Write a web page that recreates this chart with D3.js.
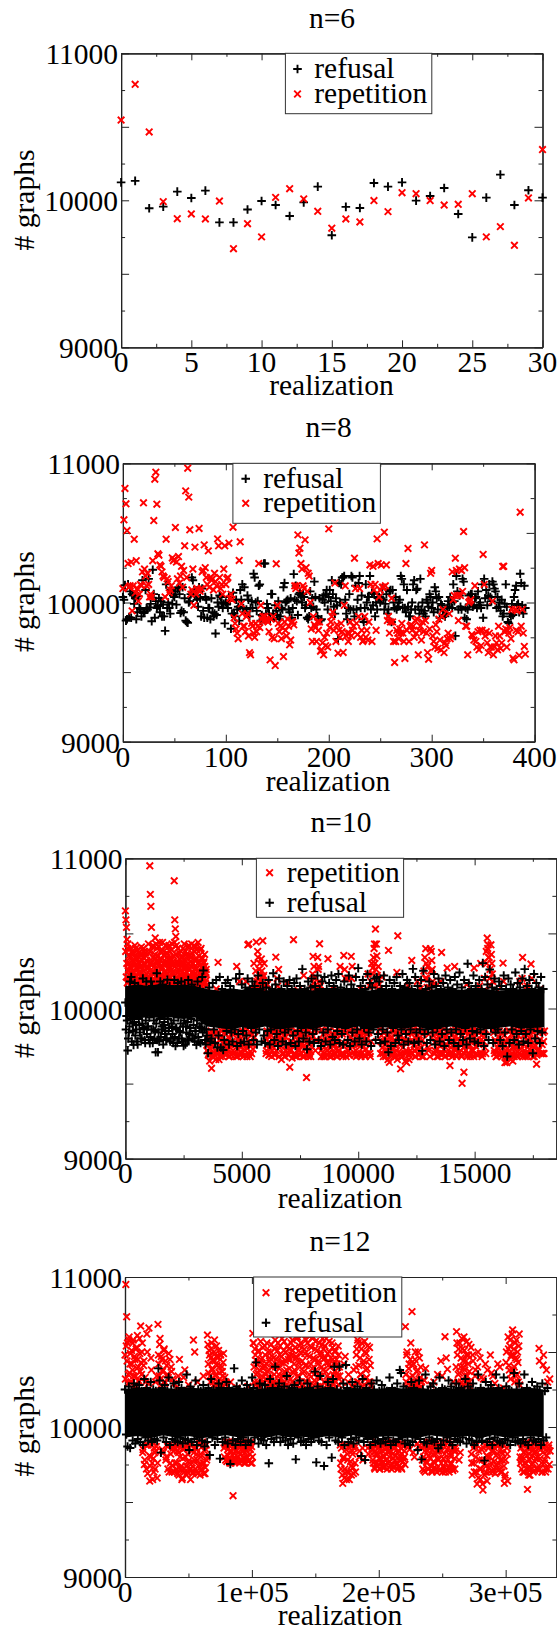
<!DOCTYPE html>
<html>
<head>
<meta charset="utf-8">
<script src="https://cdn.jsdelivr.net/npm/d3@7"></script>
<style>
    html, body { margin: 0; padding: 0; background: #fff; }
    svg { display: block; }
    text { font-family: "Liberation Serif", serif; fill: #000; }
</style>
</head>
<body>
<div id="chart"></div>
<script>
// n=6, one value per realization
const n6Refusal = [10122,10132,9946,9957,10059,10016,10066,9850,9850,9937,9995,9968,9893,9986,10093,9762,9955,9948,10118,10093,10122,9998,10029,10084,9907,9748,10018,10175,9968,10068,10018];
const n6Repetition = [10546,10789,10465,9991,9875,9907,9873,9995,9671,9841,9751,10020,10079,10009,9925,9810,9873,9853,9998,9923,10052,10045,9998,9968,9973,10045,9751,9821,9694,10016,10345];

// n=8, one value per realization
const n8Refusal = [
    10040,10020,10125,9870,9880,10130,9895,10080,9890,10060,10050,9990,10030,9880,9930,10045,9960,9950,9900,10160,
    9925,9935,10090,9960,9950,10170,9965,9990,9865,10235,10060,9890,10010,9960,9975,10030,9930,10010,9900,9985,
    9900,9796,10130,9960,10000,9960,9920,10090,9990,10050,10040,10080,9985,10100,10110,10060,9925,9940,10110,9930,
    10030,9870,9860,9855,10000,10010,10060,10180,10160,10090,10050,10080,10020,9970,10110,10030,9900,10100,9940,9890,
    10040,10020,9890,9960,9960,9880,10030,9930,9900,9920,9777,9910,10000,9970,10050,10040,10000,9960,9990,9850,
    10000,9990,9960,10040,10010,9811,9920,10070,9920,9900,10020,9950,9970,9870,10090,10020,10130,9960,10110,9930,
    9950,10050,10020,9900,9960,10010,9960,10206,10180,10000,9940,10010,10120,10130,9870,9910,9880,10280,10280,9920,
    9990,9960,9920,9880,10060,10060,9920,9890,9980,9940,9910,10010,9880,9900,9960,9950,10110,10140,10000,10010,
    10020,9950,9930,10030,9890,9960,10204,10020,10120,10010,9910,10060,10070,10050,10000,10060,10040,9960,9980,9890,
    9880,9900,10080,9960,10030,9970,10150,10040,9950,9900,9880,10030,9870,9880,10020,10050,10000,10060,10090,9950,
    10040,10090,10010,10160,10060,9970,9920,10030,9980,9739,10140,10000,10130,10180,10180,10190,10020,9920,9880,9960,
    10060,9950,10190,10180,9950,9900,10120,9950,10020,10140,10190,9960,10050,9880,9860,9960,10130,10000,10040,10040,
    10190,9950,10070,9980,10060,9900,10000,9950,10030,10040,10000,10030,10100,10020,9950,9990,10060,9920,9950,10080,
    10090,9860,10090,10000,9960,10040,9950,9970,10000,10020,10190,10170,9960,10130,9960,9930,10090,9970,9900,9900,
    9950,10000,10130,10160,9950,10090,10100,9970,9920,10170,9950,10000,9920,9940,9900,10020,10000,9970,10060,10040,
    9960,10000,9930,10110,10080,10030,9950,10040,9890,9990,9980,9910,9940,9900,9920,9960,10010,9970,10040,10000,
    9960,10130,10010,9760,10190,10080,9950,10050,9970,9950,10170,10150,9890,9960,9880,9950,10050,9990,10060,10060,
    9970,9980,10030,10040,9960,10080,9980,10000,9960,10130,9890,10170,10030,10090,9980,10050,10130,10040,10010,10150,
    10130,10100,10080,9960,10040,9970,10000,9940,10020,9900,9920,9990,10130,9970,9860,9850,9920,9900,9990,9910,
    10040,10090,10120,9980,9990,9930,10206,10140,9980,9920,10120,9960
];
const n8Repetition = [
    10100,10594,10819,10709,10517,10280,10110,10120,10290,9940,10120,10455,10070,10300,10100,10010,10060,10130,10120,10220,
    10716,10240,10190,10120,10210,10130,10040,10060,10040,10300,10589,10886,10936,10706,10350,10340,10270,10260,10220,10190,
    10180,10040,10455,10170,10150,10070,10090,10120,10320,10300,10310,10539,10290,10170,10330,10140,10190,10260,10110,10230,
    10407,10802,10180,10965,10757,10522,10060,10090,10240,9980,10398,10060,10100,10090,10532,10080,10100,10220,10230,10414,
    10250,10180,10130,10371,10110,10180,10160,10170,10090,10210,10150,10120,10457,10407,10180,10100,10130,10060,10240,10407,
    10130,10170,10180,10426,10030,10060,10020,10541,9890,9850,9810,9780,9740,10302,10436,9990,9920,9830,9830,9790,
    9900,9920,9760,9640,9624,9850,9830,9780,9750,9850,9790,9830,10280,9820,9980,9880,9900,9870,9900,9880,
    9870,9860,9790,9588,9880,9750,9900,9740,9547,10278,9980,9850,9790,9830,9740,9820,9612,9860,9800,9760,
    9880,9830,9696,9730,9860,9860,9840,10120,10100,10120,10486,10355,10390,10280,10240,10120,10100,10450,10250,10080,
    10210,10190,10000,9810,9720,9900,9840,9820,9720,9860,9800,9860,9650,9660,9710,9624,9750,9690,9780,9680,
    10529,9820,9860,9900,9930,9800,10140,9720,9840,9636,9800,9750,9850,9790,9641,9980,10120,9760,9780,9720,
    9780,9860,9760,9800,9830,10318,10100,9850,9770,9900,10100,9750,9800,9720,9730,9900,9750,9800,9730,9860,
    10270,10130,9720,10260,10090,10130,9800,10457,10280,10040,10090,10270,10110,10110,10505,10120,10270,9870,9900,9780,
    9860,10030,9860,9720,9569,9720,9800,9780,9740,9810,9780,9850,9780,9720,9598,10280,9800,10388,9720,9830,
    9840,9800,9830,9750,9870,9780,9880,9624,9800,9830,9730,9860,9790,10414,9870,9780,9640,9593,9810,10210,
    10230,9760,9720,9680,9840,9790,9670,9880,9730,9660,9900,9950,9640,9710,9690,9740,9780,9920,9740,9760,
    10220,10020,10050,10318,10230,10050,9870,10240,10050,10230,10080,10510,10250,9830,9830,9624,10000,10010,10020,9770,
    9760,9730,10120,9720,9680,9790,9660,9800,9690,9800,10345,10130,9760,9790,9710,9640,9780,9680,9680,10010,
    9624,9680,9760,9710,9660,9830,9760,9670,9710,10259,10260,9790,9810,9680,9800,9780,9820,9740,9950,9600,
    9588,9950,9800,9940,9790,9620,10649,9830,9950,9780,9684,9629
];

// n=10, only every so many realizations could be read, see the steps below
const n10RepetitionEarly = [
    10650,10590,10540,10460,10400,10250,10180,10300,10220,10340,10160,10270,10380,10200,10310,
    10240,10350,10170,10290,10400,10210,10330,10260,10180,10370,10230,10300,10160,10280,10350,
    10200,10320,10180,10250,10380,10300,10220,10160,10350,10270,10190,10310,10240,10370,10210,
    10950,10760,10680,10540,10290,10180,10420,10230,10330,10170,10470,10260,10210,10400,10310,
    10180,10350,10240,10440,10200,10320,10160,10280,10390,10220,10300,10170,10360,10250,10420,
    10300,10190,10340,10230,10410,10170,10270,10380,10210,10320,10160,10430,10240,10290,10350,
    10850,10590,10530,10480,10420,10200,10310,10180,10260,10370,10220,10300,10170,10340,10240,
    10200,10400,10270,10160,10320,10230,10380,10190,10290,10350,10170,10260,10420,10210,10310,
    10180,10340,10430,10240,10160,10300,10220,10380,10200,10410,10270,10170,10330,10250,10440,
    10210,10310,10160,10390,10240,10180,10340,10270,10200,10300,10170,10360,10230,10150,10260
];
const n10RepetitionEarlyB = [
    10380,10210,10300,10170,10430,10260,10350,10190,10280,10400,10230,10160,10320,10250,10370,
    10180,10300,10420,10220,10340,10160,10270,10390,10200,10310,10240,10170,10360,10280,10410,
    10260,10170,10340,10400,10210,10290,10180,10370,10230,10320,10160,10270,10430,10200,10300,
    10380,10220,10300,10170,10410,10250,10340,10190,10280,10360,10210,10430,10160,10320,10240,
    10290,10410,10170,10330,10220,10380,10260,10180,10440,10300,10200,10350,10240,10160,10310,
    10230,10370,10180,10300,10260,10420,10200,10340,10170,10290,10390,10220,10310,10160,10250,
    10440,10280,10170,10360,10210,10300,10400,10240,10180,10330,10270,10160,10380,10220,10300,
    10340,10180,10300,10430,10220,10270,10160,10360,10240,10190,10410,10300,10170,10260,10350,
    10280,10210,10370,10170,10300,10240,10420,10180,10330,10260,10160,10390,10220,10300,10180,
    10350,10240,10170,10290,10400,10210,10330,10160,10260,10310,10200,10280,10170,10240,10190
];
const n10RepetitionLate = [
    9720,9780,9700,9650,9830,9602,9760,9680,9840,9720,10130,9700,10307,9660,9790,9740,9850,9680,9720,9770,
    9830,9760,9700,9810,9680,9740,9860,9780,9720,9840,9690,9760,10280,9680,9790,10180,9710,9840,9760,9680,
    9820,9720,10180,9680,10424,10430,9770,9840,9700,9760,10130,9810,10150,10442,10200,10340,10260,10300,10180,10250,
    10451,10220,10120,9800,9720,10160,9840,9690,9760,9820,9720,9860,9780,9690,10342,9820,10150,10260,9740,9840,
    9660,9700,9780,9820,9680,9720,10170,9860,9760,9609,9720,9780,9840,10458,9700,9680,9770,9840,10120,9720,
    9690,9760,9820,9680,10220,9780,9740,9540,9860,9680,9700,9830,9750,10130,10347,10280,10200,9860,9790,10340,
    10280,10431,10150,9680,9760,9830,9700,9680,9790,9720,10331,9850,9680,9740,9810,9690,10130,9760,9700,9830,
    9680,9770,9720,10280,9850,9700,9680,10353,10260,9760,9840,10200,9720,9690,9800,10347,10280,9860,9690,9780,
    9720,9820,9690,9760,9850,10130,9700,9780,9840,10120,9680,9730,9800,10230,9840,9700,10180,10300,10270,10340,
    10429,10529,10429,10220,10280,10160,9860,9780,10210,9700,9840,9760,9680,9820,9720,10387,9642,9740,9800,9690,
    9770,9850,9710,9680,10240,10484,9820,9760,9598,9700,9680,9790,9840,9650,9720,9780,10150,9660,9840,9700,
    10320,9780,9860,9720,9680,9820,10180,9700,9790,10130,9740,9680,9830,10250,10340,10398,10200,10280,9720,10140,
    10398,10380,10260,10160,9860,9720,9800,9680,9760,9840,9700,10180,10373,9780,9700,9820,9680,9760,10270,9850,
    9690,9620,9740,9820,9700,9780,10280,9860,9680,9740,9800,9710,9850,9690,9502,9770,9576,9840,9720,10160,
    9700,9830,9760,9680,9820,9850,9720,10270,9780,9700,9850,9690,9760,10150,10300,9820,9700,9780,10200,9860,
    10380,10469,10424,10340,10260,10424,10300,10180,9840,9700,9780,9680,10120,9730,9850,9700,9760,9680,10302,9820,
    9640,9720,9640,9800,9680,9850,9660,9760,9700,9820,9680,9780,9740,9680,9850,9700,10180,9760,9690,10340,
    9820,9720,9680,9850,10150,9760,9700,9800,10296,10200,9680,9740,9860,9700,9629,9780,9720,9840,10130,9700,
    9760,9840,9700
];
const n10RepetitionLateB = [
    9760,9690,9810,9730,9850,9680,9790,9710,9830,9660,9770,9840,9700,9790,9680,9820,9740,9860,9700,9780,
    9700,9850,9730,9680,9800,9760,9690,9830,9860,9710,9770,9680,9840,9730,9810,9690,9770,9700,9850,9750,
    9690,9810,9740,9860,9700,9780,9680,9820,10130,9730,10300,9850,10250,10180,10380,10150,10220,10120,10330,10160,
    10210,10300,10160,9700,9850,9760,9690,9810,9730,9680,9840,9770,9700,9860,9720,10200,9790,9680,9820,9750,
    9780,9850,9700,9680,9810,9760,9840,9690,9720,9860,9780,9670,9830,9750,9700,9850,9680,9790,9730,9820,
    9840,9700,9770,9860,9680,9730,9810,9690,9780,9850,9720,9680,9800,10230,10170,9850,9720,9790,10140,10260,
    10180,10120,9720,9860,9790,9680,9840,9730,9770,9690,9850,9710,9800,9680,9760,9830,9700,9850,9730,9680,
    9800,9720,9840,9690,9760,9830,9700,9850,10200,9680,9780,9720,9850,9690,9760,10200,9830,9710,9770,9850,
    9680,9760,9840,9700,9790,9680,9820,9740,9860,9690,9770,9830,9700,9850,10150,9680,9780,10230,10150,10400,
    10300,10260,10350,10170,10130,9860,9700,9820,9740,9680,9780,9850,9710,9790,9660,9830,9750,9690,9860,9730,
    9680,9790,9840,9720,9660,9850,9760,9700,9820,9680,9740,9860,9700,9770,9640,9830,9690,9780,9720,9850,
    9700,9840,9760,9680,9800,9730,9860,9690,9770,9840,9710,9790,9680,9850,10200,10300,10140,9740,9830,9680,
    10250,10320,10180,9820,9700,9780,9860,9730,9680,9810,9750,9850,9700,9780,9860,9680,9740,9820,9700,9780,
    9840,9700,9780,9680,9850,9730,9810,9690,9760,9840,9700,9860,9770,9680,9820,9740,9700,9850,9790,9680,
    9760,9850,9690,9780,9720,9840,9680,9810,9750,9860,9690,9770,9840,9700,9790,9680,9830,10120,9740,9700,
    10300,10400,10340,10200,10150,10360,10230,9860,9720,9790,9680,9850,9740,9810,9690,9770,9840,9700,10180,9750,
    9700,9780,9680,9850,9720,9760,9690,9830,9650,9740,9860,9700,9790,9680,9820,9770,9730,9850,10200,9680,
    9760,9850,9700,9790,9680,9830,9730,9860,9700,9770,9840,9680,9750,9820,9690,9860,9730,9790,9700,9850,
    9700,9780,9850
];
const n10Refusal = [
    10040,9950,9720,9840,10180,10210,9900,9758,10170,9860,9780,10150,9890,10130,9800,10200,9860,9770,10180,9880,
    9790,9769,10180,10150,9860,9800,9709,10235,9709,9780,10180,9860,10160,9890,9830,9790,10191,9850,10150,9800,
    9880,9770,10190,9751,9860,10170,9800,9840,10180,9780,9751,10150,9880,9790,10190,9830,9870,10160,9800,10130,
    9850,9758,10180,9780,10130,9870,10210,10253,9860,9760,9820,9702,10140,9780,9800,10170,9860,9770,10190,9740,
    9820,10210,9740,10130,9724,9790,10170,9850,10190,9760,10150,9840,9780,10120,9860,10200,9750,9830,10230,9770,
    10160,9850,9780,10140,9820,10200,9760,10130,9870,10180,9790,10150,9840,9760,10220,9860,10130,9780,10170,9820,
    9770,10140,9850,10190,9760,9860,10130,10235,9790,10160,9830,9750,10200,9870,10130,9780,10180,9840,9760,10150,
    9860,10190,9770,10130,9820,10170,9750,10200,9850,9780,10150,9870,10262,9800,10130,9840,9729,10180,9780,10140,
    10200,9830,9770,10150,9860,10220,9790,10130,9750,10180,9840,10210,9780,10130,9860,10170,9760,10220,9810,10150,
    9790,10190,9850,10230,9770,10140,9830,9760,10180,9870,10130,9790,10220,9750,10160,9840,10130,9780,10210,9860,
    10269,9800,10150,9760,10190,9870,10130,9780,10230,9840,10170,9750,10140,9860,10200,9790,10210,9830,10180,9770,
    10130,9860,10220,9780,10150,9840,9709,10190,9750,10130,9870,10170,9770,10210,9820,9790,10150,9860,10230,9760,
    10140,9830,10190,9780,10170,9860,10130,10264,9770,10210,9840,10150,9780,9860,10190,9718,10251,9830,10130,9770,
    9860,10180,9790,10140,9840,10230,9760,10150,9870,10200,9780,10130,9830,10170,9750,10220,9860,10140,9790,10190,
    9840,10130,9770,10210,9860,10160,9750,10240,9830,10140,9790,10190,9870,9760,10298,10170,9800,10130,9850,10220,
    9780,10150,9840,9770,10190,9860,10130,10302,9750,10210,9830,10160,9790,10260,9870,10140,9770,10200,9840,10130,
    9860,10180,9790,10150,9750,10220,9840,10130,9680,10200,9770,10160,9860,10130,9790,10240,9830,10170,9760,10140,
    9850,10200,9780,10262,9830,10150,9770,10190,9860,10130,9702,10230,9800,10170,9850,10140,9770,10210,9840,10130
];
const n10RefusalEarlyLow = [
    9860,9920,9800,9880,9930,9780,9850,9910,9820,9890,9760,9930,9840,9800,9900,9870,9790,9920,9830,9880,
    9940,9810,9860,9770,9920,9850,9900,9790,9840,9930,9810,9880,9760,9910,9850,9800,9930,9870,9780,9900,
    9830,9920,9810,9870,9770,9940,9850,9900,9800,9880,9920,9760,9840,9910,9790,9870,9930,9820,9890,9780,
    9850,9920,9810,9880,9770,9900,9840,9930,9790,9860
];
// the middle of the refusal band is overplotted solid, so only its edges are read
const n10CoreStep = 500;
const n10CoreLow = [9940,9930,9945,9935,9940,9930,9940,9880,9870,9860,9875,9865,9880,9860,9870,9875,9860,9880,9870,9865,9880,9860,9875,9870,9865,9880,9860,9870,9880,9865,9875,9860,9870,9880,9865,9870,9875];
const n10CoreHigh = [10150,10160,10150,10165,10155,10160,10150,10130,10120,10135,10125,10140,10120,10130,10125,10135,10120,10130,10140,10125,10130,10120,10135,10125,10140,10130,10120,10135,10130,10125,10140,10130,10120,10125,10130,10135,10125];

// n=12
const n12Repetition = [
    10480,10950,10735,10560,10350,10600,10420,10300,10510,10380,10580,10270,10450,10340,10530,10610,10400,10300,10490,10673,
    10350,10560,9850,10440,9780,10300,9720,10500,9880,10660,9640,9800,10380,9760,9900,9700,9830,10300,9870,9660,
    10684,10420,10550,10320,10470,9850,10380,10510,10290,10440,9800,10350,9720,10490,9880,9760,10400,9700,10320,9840,
    9700,9860,10260,9760,9690,9830,10451,9720,9880,9650,9790,10330,9700,9860,9740,9680,9820,10280,9760,9880,
    9720,9840,9690,10580,9780,9860,9700,9820,10300,9740,9880,9680,9800,9720,9900,10340,9760,9690,9850,9780,
    10613,10420,10510,10340,10460,10560,10380,10300,10500,10440,10350,10540,10280,10470,10400,10320,10480,10260,10370,10430,
    9860,10330,9780,9900,10270,9810,9880,9760,10300,9840,9900,9542,9790,9860,9770,9840,10260,9800,9880,9760,
    9820,9900,9770,9860,9790,9880,9760,9840,9800,10270,9870,9780,9850,9900,9760,10624,10560,10300,10480,10350,
    10420,10300,10510,10380,10260,10450,10340,10530,10290,10410,10480,10320,10560,10370,10270,10440,10330,10500,10400,10280,
    10460,10350,10580,10290,10420,10510,10310,10390,10540,10270,10470,10340,10430,10570,10300,10500,10380,10260,10450,10520,
    10640,10320,10480,10580,10360,10420,10530,10290,10460,10600,10340,10510,10400,10560,10280,10440,10620,10370,10490,10300,
    10410,10560,10320,10630,10470,10280,10530,10390,10600,10350,10450,10570,10300,10510,10420,10640,10340,10480,10270,10550,
    10380,10520,10300,10460,10590,10340,10430,10270,10500,10400,10320,10560,10450,10290,10370,10510,10260,10420,10340,10480,
    10400,9880,9720,10300,9624,9800,9660,10470,9850,9700,9780,10350,9650,9880,9740,10270,9820,9690,9860,9760,
    10400,10520,10580,10300,9800,10460,10350,10560,9860,10420,10280,10500,10380,10330,10540,9820,10450,10300,10270,9880,
    9850,9760,9880,9720,9820,9900,9740,9860,9790,9720,9880,9760,9840,9730,9800,9890,9750,9860,9720,9830,
    9880,9770,9840,9720,9900,9790,9740,9860,9810,9750,9880,9720,9840,9780,9890,9730,9820,9770,9870,9800,
    10669,10300,10500,10260,10390,9850,10450,10280,10769,10340,10420,9800,10500,10300,10260,10380,9870,10460,10330,10270,
    9860,9720,9800,10310,9700,9880,9760,9840,9720,9900,9790,10280,9710,9850,9770,9730,9890,9820,9700,10350,
    9780,9880,9720,10440,9840,9700,9790,9900,10602,9760,9720,10385,9860,9700,9810,9750,9890,9720,10300,9840,
    9720,9840,10636,10480,10350,9780,10560,10400,10300,10520,10440,10600,10380,10290,10480,10340,10420,10550,10300,10260,
    9820,9680,10440,9760,9880,10380,9700,9620,10500,9840,9720,9650,10330,9780,9580,9860,9680,10420,9740,9640,
    9800,9880,9700,10480,9760,9840,10340,9720,9860,9690,9810,9740,10420,9880,9720,9780,9850,9700,9820,10260,
    9624,9680,10430,9860,9640,10520,10380,10580,10470,10360,10647,10480,10400,10560,10340,10450,10500,10300,10620,9800,
    9860,9720,9800,9880,9700,9840,9760,9900,9584,9720,9820,9680,9860,9750,9810,9700,9880,9770,9840,9720,
    9800,9880,10524,9720,9850,9760,9700,10413,9860,9780,9700,10380,9840,9720,9880,10320
];
const n12RepetitionB = [
    10320,10540,10440,10290,10580,10360,10490,10300,10420,10560,10340,10470,10280,10520,10390,10450,10310,10590,10370,10430,
    10500,9830,10410,9750,10330,9880,10620,9690,10290,9810,9740,10460,9880,9650,9790,9860,9720,9840,10340,9760,
    10480,10340,10590,10280,10450,10370,9830,10520,10300,9780,10410,9870,10330,9700,10450,9820,10370,9740,9860,10290,
    9760,9880,9720,9840,10340,9680,9800,9890,9740,9660,9850,9720,10380,9800,9890,9700,9770,9860,9720,9650,
    9880,9760,9700,9830,10500,9720,9860,9780,9690,9900,9750,9820,9710,9870,9760,9690,9840,9730,9880,9800,
    10550,10360,10480,10300,10520,10390,10440,10280,10580,10340,10470,10410,10300,10510,10360,10450,10290,10400,10340,10490,
    9800,9880,10300,9770,9850,9900,9790,9840,9760,9890,9810,9770,9880,9840,9790,9900,9770,9830,9860,9780,
    9880,9780,9840,9900,9760,9830,9880,9790,9860,9770,9890,9820,9760,9870,9800,10560,10400,10520,10280,10440,
    10360,10500,10280,10430,10570,10320,10460,10390,10290,10540,10350,10420,10270,10500,10380,10460,10310,10550,10290,10410,
    10300,10520,10400,10450,10280,10560,10350,10480,10320,10430,10590,10290,10510,10370,10440,10280,10540,10340,10470,10390,
    10450,10560,10300,10510,10620,10380,10280,10470,10590,10340,10430,10540,10300,10490,10610,10360,10280,10520,10410,10580,
    10300,10480,10610,10350,10540,10420,10290,10590,10460,10310,10520,10380,10620,10270,10440,10560,10330,10500,10400,10590,
    10450,10300,10540,10370,10280,10490,10410,10570,10320,10460,10270,10530,10350,10420,10500,10300,10450,10360,10540,10280,
    10340,9760,9860,9680,9790,10420,9720,9880,9650,9820,10300,9700,9860,9770,9680,9840,9730,10380,9880,9700,
    10480,10300,10560,10410,9840,10350,10520,10270,9780,10440,10570,10320,10490,10390,9860,10300,10530,10410,10280,9820,
    9780,9880,9730,9840,9900,9760,9820,9880,9720,9790,9860,9740,9890,9810,9730,9850,9780,9900,9760,9840,
    9800,9870,9740,9890,9820,9730,9860,9780,9900,9750,9830,9880,9740,9800,9860,9720,9890,9790,9840,9750,
    10350,10480,9880,10290,10420,10330,10560,10270,10410,9830,10300,10450,10280,10370,9890,10500,10320,10260,10400,10300,
    9780,9880,9710,9840,10390,9770,9900,9720,9810,9860,9740,9890,9700,9820,10300,9760,9880,9720,9840,9790,
    9840,9710,9880,9760,10340,9890,9730,9820,9700,10460,9850,9780,9900,9720,9830,9760,9890,9710,9860,9790,
    9860,10400,10560,10300,10520,10360,9830,10460,10590,10280,10400,10510,10340,10440,10570,10300,10480,10370,10270,10530,
    9760,10480,9860,9700,10340,9800,9880,10400,9660,9780,10460,9720,9850,9620,10320,9750,9880,9700,9810,10380,
    9860,9730,9800,9890,10360,9700,9840,9770,10290,9880,9720,9820,9760,9890,10400,9700,9830,9780,9880,9740,
    9660,9780,10500,9820,10600,10410,10540,10320,10480,10620,10380,10520,10300,10460,10580,10350,10430,10540,10280,9760,
    9780,9880,9700,9830,9760,9890,9720,9810,9860,9680,9780,9880,9720,9840,9760,9900,9710,9830,9790,9870,
    9720,9860,10440,9790,9880,9700,9830,10480,9760,9880,9720,9810,10300,9860,9750,9840
];
const n12Refusal = [
    10250,9950,9870,10270,9860,10240,9910,10290,9890,10250,9920,10280,9900,10240,9880,10320,9930,10260,9910,10240,
    10300,9900,10250,9920,10240,9910,10391,10310,9829,10260,9930,10280,9900,10240,10330,9880,10250,9920,10290,9910,
    10240,9900,10300,9930,10260,9890,10240,9920,10350,9910,9847,10270,9900,10240,9920,10310,9880,10250,9930,10240,
    9910,10280,9870,10240,9900,10260,9813,10320,9930,10250,9880,10240,9920,10290,9789,10260,9900,10240,9930,10300,
    9890,10260,9753,10240,9910,10391,9880,10270,9920,10250,9900,10310,9930,10240,9880,10280,9910,10250,9900,10330,
    10260,9930,10431,10240,9890,10290,9920,10250,9910,10280,9880,10240,9758,10320,9920,10260,9900,10402,9930,10250,
    10290,9900,10240,9930,10270,9910,10340,9880,10250,9920,10260,9890,10280,9784,10240,9930,10310,9900,10250,9910,
    10240,9880,10290,9920,10260,9900,10240,9930,10369,9764,10270,9910,10340,9900,10250,9740,10240,9880,10300,9930,
    10260,9796,10320,10402,9910,10250,9900,10402,10240,9930,10290,9880,10413,10260,9900,10240,9920,10300,9890,10250,
    9930,10270,9910,10240,9807,10320,9900,9780,10260,9920,10240,9880,10290,9930,10250,9900,10310,9910,10240,9890,
    10280,9920,10250,9900,10240,9930,10330,9880,10260,9910,10240,9900,10290,9920,10380,10360,9930,10270,9890,10250,
    9910,10240,9880,10300,9900,10260,9930,10240,9847,10310,9920,9784,10250,9900,10350,9890,10240,9930,10270,9910,
    10290,9900,10240,9920,9858,10330,9880,10260,9910,10250,10240,9930,10310,9900,10270,9880,10240,9920,10290,9910,
    10260,9900,10250,9930,10240,10320,9890,10270,9920,10250,9910,10290,9880,10240,9900,10350,9930,10260,9910,10240,
    9776,10300,9900,10250,9920,10280,9880,10240,9930,10350,9910,10260,9900,10240,9890,10330,9920,10270,9910,10250,
    9880,10240,9930,10360,9900,10250,9910,10290,9890,10240,9920,10350,9900,10260,9880,10240,9930,10300,9910,10250,
    9900,10270,9920,10240,9880,10290,9910,10240,9930,10260
];
const n12CoreStep = 10000;
const n12CoreLow = [9930,9940,9925,9945,9930,9940,9925,9935,9945,9930,9940,9925,9945,9930,9935,9925,9940,9930,9945,9925,9935,9940,9930,9925,9945,9935,9930,9940,9925,9945,9930,9935,9940,9930];
const n12CoreHigh = [10250,10265,10255,10260,10250,10265,10255,10250,10260,10265,10250,10255,10265,10250,10260,10255,10265,10250,10260,10255,10250,10265,10255,10260,10250,10265,10255,10250,10260,10265,10250,10255,10260,10250];

const yLabels = [9000, 10000, 11000];

const atStep = (values, step, start = 0) => values.map((v, i) => ({ x: start + i * step, y: v }));

const refusalStyle = { name: "refusal", color: "#000", path: "M-4.3,0H4.3M0,-4.3V4.3", width: 1.9 };
const repetitionStyle = { name: "repetition", color: "#f00", path: "M-3.3,-3.3L3.3,3.3M-3.3,3.3L3.3,-3.3", width: 1.9 };

const panels = [
    {
        title: "n=6", box: [121.1, 542.5, 53.3, 347.3], xMax: 30, xMajor: 5, xMinor: 2.5,
        titleX: 332, titleY: 28, xLabelX: 331.4, xLabelY: 395, xTickY: 372, yLabelY: 200,
        legend: [285.4, 431.8, 53.3, 113.7], legendMarkX: 297.5, legendTextX: 314.3, legendY: [78, 103],
        layers: [
            { style: refusalStyle, points: atStep(n6Refusal, 1) },
            { style: repetitionStyle, points: atStep(n6Repetition, 1) },
        ],
    },
    {
        title: "n=8", box: [122.9, 534.6, 463.3, 741.7], xMax: 400, xMajor: 100, xMinor: 50,
        titleX: 328.6, titleY: 437, xLabelX: 327.9, xLabelY: 790.7, xTickY: 767, yLabelY: 601.7,
        legend: [232.9, 380.4, 463.3, 523.3], legendMarkX: 245.7, legendTextX: 263.2, legendY: [487.7, 512.3],
        layers: [
            { style: refusalStyle, points: atStep(n8Refusal, 1) },
            { style: repetitionStyle, points: atStep(n8Repetition, 1) },
        ],
    },
    {
        title: "n=10", box: [125.4, 556.4, 858.3, 1158.7], xMax: 18512, xMajor: 5000, xMinor: 2500,
        titleX: 341, titleY: 831.7, xLabelX: 340, xLabelY: 1207.7, xTickY: 1183, yLabelY: 1007.5,
        legend: [256.4, 403.6, 858.3, 917.3], legendMarkX: 269.6, legendTextX: 286.8, legendY: [881.7, 911.7],
        layers: [
            {
                style: repetitionStyle,
                points: atStep(n10RepetitionEarly, 23.3)
                    .concat(atStep(n10RepetitionEarlyB, 23.3, 11.6))
                    .concat(atStep(n10RepetitionLate, 40, 3500))
                    .concat(atStep(n10RepetitionLateB, 40, 3520)),
            },
            {
                style: refusalStyle,
                points: atStep(n10Refusal, 50).concat(atStep(n10RefusalEarlyLow, 50, 25)),
                core: [n10CoreStep, n10CoreLow, n10CoreHigh],
            },
        ],
    },
    {
        title: "n=12", box: [125, 556.4, 1277, 1577], xMax: 340000, xMajor: 100000, xMinor: 50000,
        xFormat: d => d === 0 ? "0" : `${d / 100000}e+05`,
        titleX: 340, titleY: 1250.7, xLabelX: 340, xLabelY: 1624.5, xTickY: 1601.7, yLabelY: 1426,
        legend: [253.6, 401.8, 1277, 1337], legendMarkX: 266, legendTextX: 283.9, legendY: [1301.7, 1331.7],
        layers: [
            { style: repetitionStyle, points: atStep(n12Repetition, 650).concat(atStep(n12RepetitionB, 650, 325)) },
            { style: refusalStyle, points: atStep(n12Refusal, 1012), core: [n12CoreStep, n12CoreLow, n12CoreHigh] },
        ],
    },
];

const svg = d3.select("#chart").append("svg").attr("width", 557).attr("height", 1631);

function drawTicks(g, axis, transform) {
    const t = g.append("g").attr("transform", transform).call(axis);
    t.selectAll("text").remove();
    t.selectAll(".domain").attr("stroke", "#222").attr("stroke-width", 1.2);
    t.selectAll(".tick line").attr("stroke", "#222").attr("stroke-width", 1);
}

function drawPanel(p) {
    const [x0, x1, y0, y1] = p.box;
    const x = d3.scaleLinear().domain([0, p.xMax]).range([x0, x1]);
    const y = d3.scaleLinear().domain([9000, 11000]).range([y1, y0]);
    const g = svg.append("g");

    const xMajors = d3.range(0, p.xMax + 1, p.xMajor);
    const xMinors = d3.range(p.xMinor, p.xMax, p.xMajor);
    const yMajors = d3.range(9000, 11001, 500);
    const yMinors = d3.range(9250, 11000, 500);

    drawTicks(g, d3.axisBottom(x).tickValues(xMajors).tickSize(-7).tickSizeOuter(0), `translate(0,${y1})`);
    drawTicks(g, d3.axisBottom(x).tickValues(xMinors).tickSize(-3.5).tickSizeOuter(0), `translate(0,${y1})`);
    drawTicks(g, d3.axisTop(x).tickValues(xMajors).tickSize(-7).tickSizeOuter(0), `translate(0,${y0})`);
    drawTicks(g, d3.axisTop(x).tickValues(xMinors).tickSize(-3.5).tickSizeOuter(0), `translate(0,${y0})`);
    drawTicks(g, d3.axisLeft(y).tickValues(yMajors).tickSize(-8).tickSizeOuter(0), `translate(${x0},0)`);
    drawTicks(g, d3.axisLeft(y).tickValues(yMinors).tickSize(-4).tickSizeOuter(0), `translate(${x0},0)`);
    drawTicks(g, d3.axisRight(y).tickValues(yMajors).tickSize(-8).tickSizeOuter(0), `translate(${x1},0)`);
    drawTicks(g, d3.axisRight(y).tickValues(yMinors).tickSize(-4).tickSizeOuter(0), `translate(${x1},0)`);

    p.layers.forEach(layer => {
        if (layer.core) {
            const [step, low, high] = layer.core;
            g.append("path")
                .attr("fill", layer.style.color)
                .attr("d", d3.area()
                    .x((d, i) => x(i * step))
                    .y0((d, i) => y(low[i]))
                    .y1((d, i) => y(high[i]))(low));
        }
        g.append("g")
            .selectAll("path")
            .data(layer.points)
            .join("path")
            .attr("transform", d => `translate(${x(d.x)},${y(d.y)})`)
            .attr("d", layer.style.path)
            .attr("fill", "none")
            .attr("stroke", layer.style.color)
            .attr("stroke-width", layer.style.width);
    });

    // tick labels
    g.append("g").selectAll("text").data(xMajors).join("text")
        .attr("x", d => x(d)).attr("y", p.xTickY)
        .attr("text-anchor", "middle").attr("font-size", 29.5)
        .text(d => p.xFormat ? p.xFormat(d) : d);
    g.append("g").selectAll("text").data(yLabels).join("text")
        .attr("x", x0 - 3).attr("y", d => y(d) + 11)
        .attr("text-anchor", "end").attr("font-size", 29.5)
        .text(d => d);

    g.append("text").attr("x", p.titleX).attr("y", p.titleY)
        .attr("text-anchor", "middle").attr("font-size", 29.5).text(p.title);
    g.append("text").attr("x", p.xLabelX).attr("y", p.xLabelY)
        .attr("text-anchor", "middle").attr("font-size", 29.5).text("realization");
    g.append("text").attr("transform", `translate(34,${p.yLabelY}) rotate(-90)`)
        .attr("text-anchor", "middle").attr("font-size", 29.5).text("# graphs");

    // legend sits on top of the points, entries in drawing order
    const [lx0, lx1, ly0, ly1] = p.legend;
    const leg = g.append("g");
    leg.append("rect")
        .attr("x", lx0).attr("y", ly0).attr("width", lx1 - lx0).attr("height", ly1 - ly0)
        .attr("fill", "#fff").attr("stroke", "#333").attr("stroke-width", 1);
    p.layers.forEach((layer, i) => {
        leg.append("path")
            .attr("transform", `translate(${p.legendMarkX},${p.legendY[i] - 9})`)
            .attr("d", layer.style.path)
            .attr("fill", "none")
            .attr("stroke", layer.style.color)
            .attr("stroke-width", layer.style.width);
        leg.append("text")
            .attr("x", p.legendTextX).attr("y", p.legendY[i])
            .attr("font-size", 29.5).text(layer.style.name);
    });
}

panels.forEach(drawPanel);
</script>
</body>
</html>
